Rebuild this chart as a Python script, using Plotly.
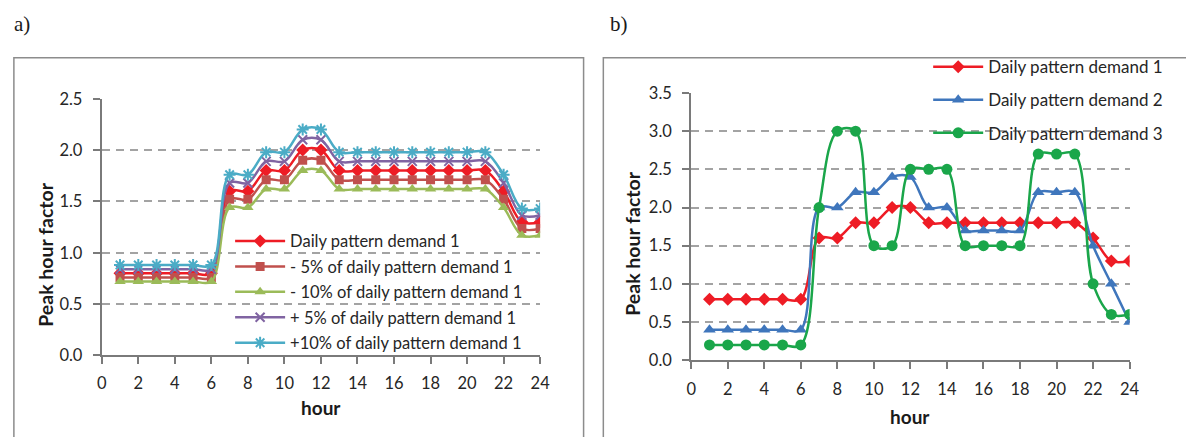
import plotly.graph_objects as go

hours = list(range(1, 25))

# Panel a
d1 = [0.8, 0.8, 0.8, 0.8, 0.8, 0.8, 1.6, 1.6, 1.8, 1.8, 2.0, 2.0,
      1.8, 1.8, 1.8, 1.8, 1.8, 1.8, 1.8, 1.8, 1.8, 1.6, 1.3, 1.3]
m5 = [0.76, 0.76, 0.76, 0.76, 0.76, 0.76, 1.52, 1.52, 1.71, 1.71, 1.9, 1.9,
      1.71, 1.71, 1.71, 1.71, 1.71, 1.71, 1.71, 1.71, 1.71, 1.52, 1.235, 1.235]
m10 = [0.72, 0.72, 0.72, 0.72, 0.72, 0.72, 1.44, 1.44, 1.62, 1.62, 1.8, 1.8,
       1.62, 1.62, 1.62, 1.62, 1.62, 1.62, 1.62, 1.62, 1.62, 1.44, 1.17, 1.17]
p5 = [0.84, 0.84, 0.84, 0.84, 0.84, 0.84, 1.68, 1.68, 1.89, 1.89, 2.1, 2.1,
      1.89, 1.89, 1.89, 1.89, 1.89, 1.89, 1.89, 1.89, 1.89, 1.68, 1.365, 1.365]
p10 = [0.88, 0.88, 0.88, 0.88, 0.88, 0.88, 1.76, 1.76, 1.98, 1.98, 2.2, 2.2,
       1.98, 1.98, 1.98, 1.98, 1.98, 1.98, 1.98, 1.98, 1.98, 1.76, 1.43, 1.43]

# Panel b
d2 = [0.4, 0.4, 0.4, 0.4, 0.4, 0.4, 2.0, 2.0, 2.2, 2.2, 2.4, 2.4,
      2.0, 2.0, 1.7, 1.7, 1.7, 1.7, 2.2, 2.2, 2.2, 1.5, 1.0, 0.5]
d3 = [0.2, 0.2, 0.2, 0.2, 0.2, 0.2, 2.0, 3.0, 3.0, 1.5, 1.5, 2.5,
      2.5, 2.5, 1.5, 1.5, 1.5, 1.5, 2.7, 2.7, 2.7, 1.0, 0.6, 0.6]

names_a = ["Daily pattern demand 1", "- 5% of daily pattern demand 1",
           "- 10% of daily pattern demand 1", "+ 5% of daily pattern demand 1",
           "+10% of daily pattern demand 1"]
names_b = ["Daily pattern demand 1", "Daily pattern demand 2", "Daily pattern demand 3"]

W, H = 1186, 437
FONT = "Lato"

def px(x):
    return x / W

def py(y):
    return 1 - y / H

fig = go.Figure()

series_a = [
    (d1, "#EE1C25", "diamond", 10, 0),
    (m5, "#C0504D", "square", 9, 0),
    (m10, "#9BBB59", "triangle-up", 10, 0),
    (p5, "#8064A2", "x-thin-open", 9, 2),
    (p10, "#4BACC6", "asterisk-open", 10, 2),
]
for i, (vals, col, sym, size, lw) in enumerate(series_a):
    fig.add_trace(go.Scatter(
        x=hours, y=vals, name=names_a[i], mode="lines+markers",
        line=dict(color=col, width=2.5, shape="spline", smoothing=1.0),
        marker=dict(symbol=sym, size=size, color=col,
                    line=dict(color=col, width=lw)),
        xaxis="x", yaxis="y", legend="legend", legendgroup="a%d" % i,
    ))

series_b = [
    (d1, "#EE1C25", "diamond", 10),
    (d2, "#3F76BC", "triangle-up", 11),
    (d3, "#1AA64A", "circle", 11),
]
for i, (vals, col, sym, size) in enumerate(series_b):
    fig.add_trace(go.Scatter(
        x=hours, y=vals, name=names_b[i], mode="lines+markers",
        line=dict(color=col, width=2.5, shape="spline", smoothing=1.0),
        marker=dict(symbol=sym, size=size, color=col),
        xaxis="x2", yaxis="y2", legend="legend2", legendgroup="b%d" % i,
    ))

AXC = "#7A7A7A"
axis_common = dict(
    showline=True, linecolor=AXC, linewidth=2,
    ticks="outside", tickcolor=AXC, tickwidth=2, ticklen=7,
    tickfont=dict(family=FONT, size=16.5, color="#262626"),
    zeroline=False,
)

fig.update_layout(
    width=W, height=H,
    margin=dict(l=0, r=0, t=0, b=0),
    paper_bgcolor="white", plot_bgcolor="white",
    font=dict(family=FONT, size=16, color="#262626"),
    xaxis=dict(domain=[px(98), px(542)], range=[0, 24], dtick=2, tick0=0,
               showgrid=False, anchor="y", ticklabelstandoff=5, **axis_common),
    yaxis=dict(domain=[py(362), py(93)], range=[0, 2.5], dtick=0.5,
               tickformat=".1f", showgrid=True, gridcolor="#A3A3A3",
               gridwidth=2, griddash="8px,6px", anchor="x",
               ticklabelstandoff=7, **axis_common),
    xaxis2=dict(domain=[px(695), px(1139)], range=[0, 24], dtick=2, tick0=0,
                showgrid=False, anchor="y2", ticklabelstandoff=6, **axis_common),
    yaxis2=dict(domain=[py(367), py(87)], range=[0, 3.5], dtick=0.5,
                tickformat=".1f", showgrid=True, gridcolor="#A3A3A3",
                gridwidth=2, griddash="8px,6px", anchor="x2",
                ticklabelstandoff=7, **axis_common),
    legend=dict(x=px(228), y=py(224), xanchor="left", yanchor="top",
                bgcolor="rgba(0,0,0,0)", tracegroupgap=1,
                font=dict(family=FONT, size=16.5, color="#262626"),
                itemwidth=50),
    legend2=dict(x=px(935), y=py(41), xanchor="left", yanchor="top",
                 bgcolor="rgba(0,0,0,0)", tracegroupgap=8,
                 font=dict(family=FONT, size=17, color="#262626"),
                 itemwidth=50),
    shapes=[
        dict(type="rect", xref="paper", yref="paper",
             x0=px(9), x1=px(586), y0=py(600), y1=py(50),
             line=dict(color="#8C8C8C", width=1.5)),
        dict(type="rect", xref="paper", yref="paper",
             x0=px(606), x1=px(1250), y0=py(600), y1=py(50),
             line=dict(color="#8C8C8C", width=1.5)),
    ],
    annotations=[
        dict(text="a)", x=px(7), y=py(15), xref="paper", yref="paper",
             xanchor="left", yanchor="middle", showarrow=False,
             font=dict(family="Liberation Serif", size=21, color="#1a1a1a")),
        dict(text="b)", x=px(611), y=py(15), xref="paper", yref="paper",
             xanchor="left", yanchor="middle", showarrow=False,
             font=dict(family="Liberation Serif", size=21, color="#1a1a1a")),
        dict(text="<b>Peak hour factor</b>", x=px(41), y=py(256),
             xref="paper", yref="paper", textangle=-90, showarrow=False,
             xanchor="center", yanchor="middle",
             font=dict(family=FONT, size=19.5, color="#1a1a1a")),
        dict(text="<b>hour</b>", x=px(320), y=py(417),
             xref="paper", yref="paper", showarrow=False,
             xanchor="center", yanchor="middle",
             font=dict(family=FONT, size=19, color="#1a1a1a")),
        dict(text="<b>Peak hour factor</b>", x=px(636), y=py(244),
             xref="paper", yref="paper", textangle=-90, showarrow=False,
             xanchor="center", yanchor="middle",
             font=dict(family=FONT, size=19.5, color="#1a1a1a")),
        dict(text="<b>hour</b>", x=px(917), y=py(426),
             xref="paper", yref="paper", showarrow=False,
             xanchor="center", yanchor="middle",
             font=dict(family=FONT, size=19, color="#1a1a1a")),
    ],
)

fig.write_html("out.html",
               config={"displayModeBar": False},
               post_script="document.body.style.margin='0';")
